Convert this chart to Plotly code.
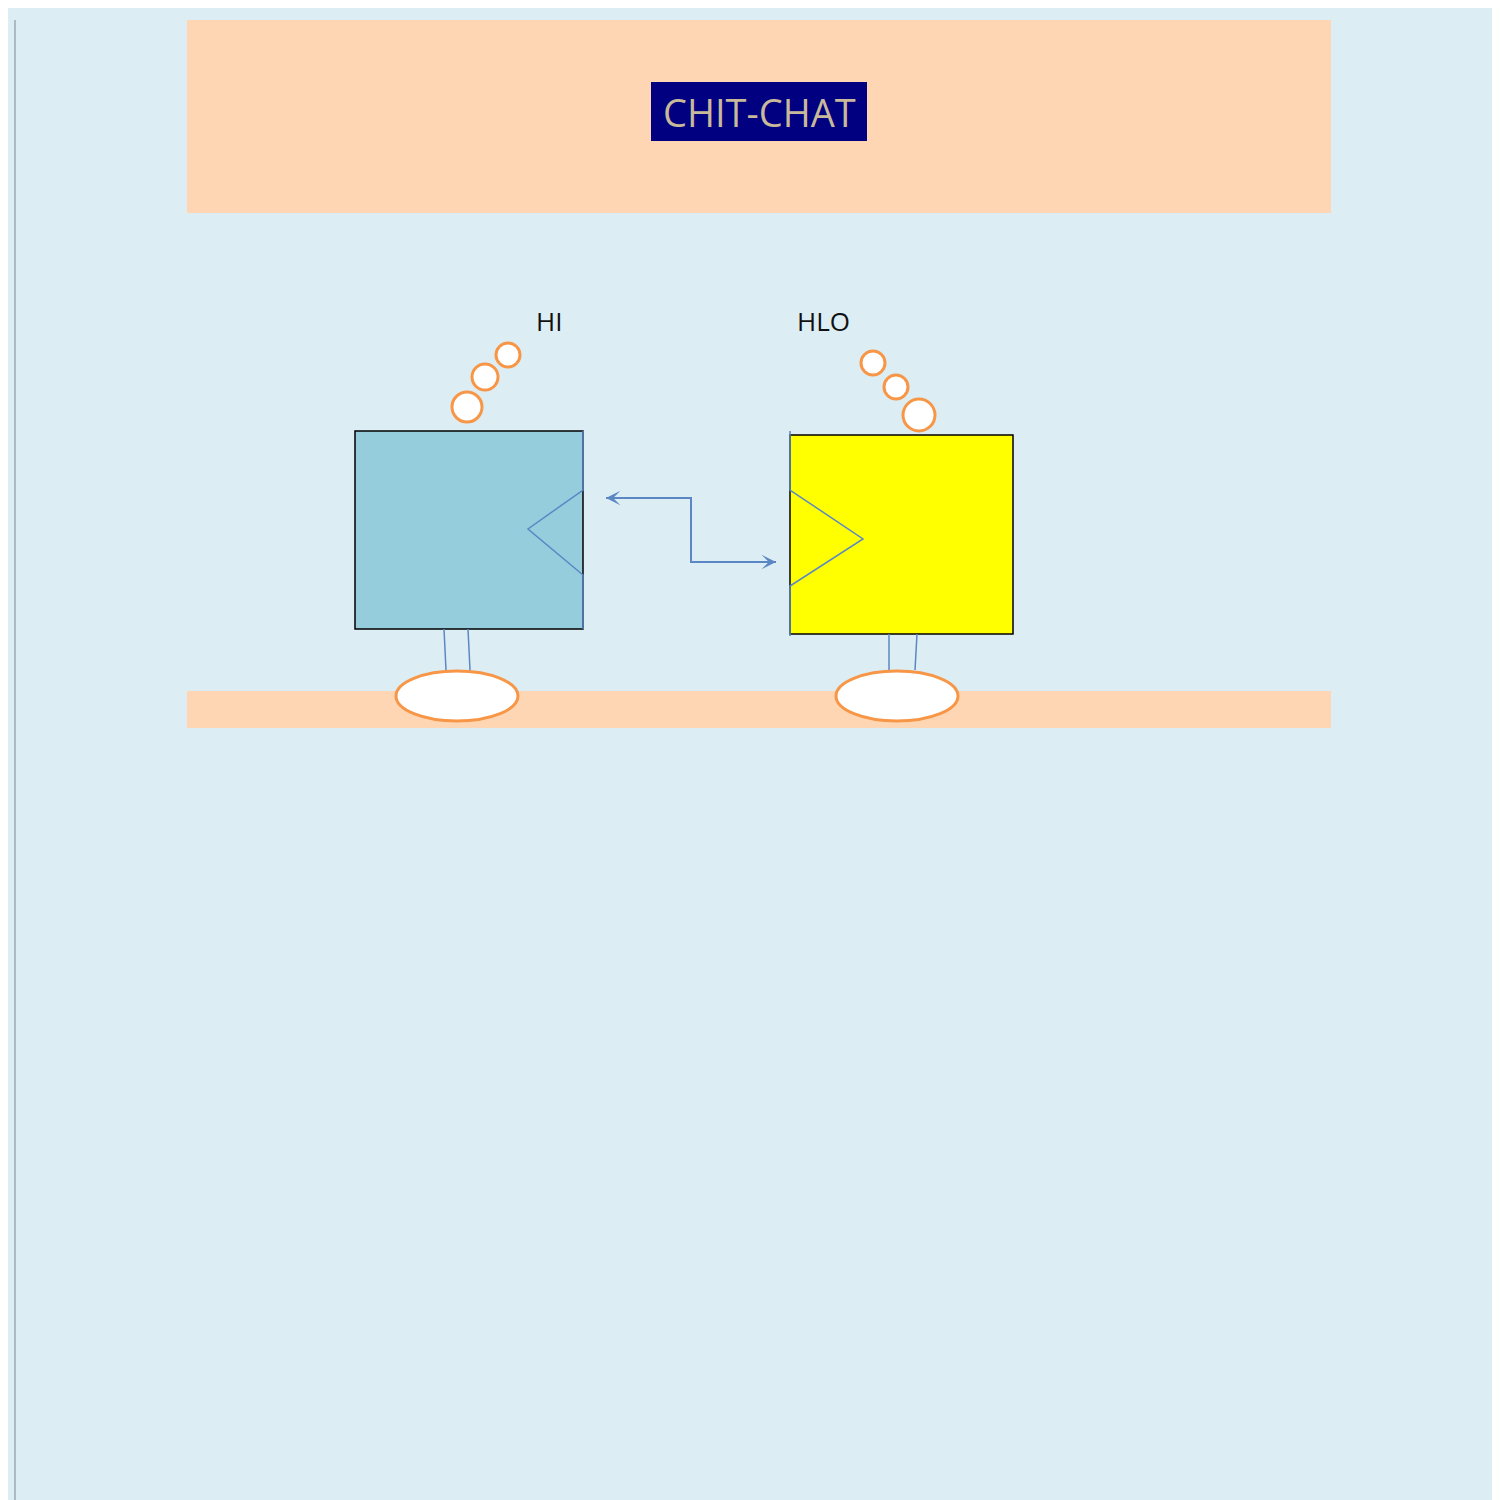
import plotly.graph_objects as go

# Diagram coordinates (pixel space, y downwards)
banner_top = [179, 12, 1323, 205]
banner_floor = [179, 683, 1323, 720]
title_box = [643, 74, 859, 133]

box_left = [347, 423, 575, 621]
box_right = [782, 427, 1005, 626]
notch_left_x = [575, 575, 520, 575, 575]
notch_left_y = [423, 482, 521, 567, 621]
notch_right_x = [782, 782, 855, 782, 782]
notch_right_y = [423, 482, 531, 578, 628]

arrow_x = [598, 683, 683, 768]
arrow_y = [490, 490, 554, 554]

bubble_x = [459, 477, 500, 865, 888, 911]
bubble_y = [399, 369, 347, 355, 379, 407]
bubble_r = [15, 13, 12, 12, 12, 16]

leg_x0 = [436, 460, 881, 909]
leg_x1 = [438, 462, 881, 907]
leg_y = [[621, 662], [621, 662], [626, 662], [626, 662]]

foot_x = [449, 889]
foot_y = [688, 688]
foot_rx = [61, 61]
foot_ry = [25, 25]

labels = ["HI", "HLO"]
label_x = [541, 815]
label_y = [313, 313]

ORANGE = "#F79646"
BLUE = "#5B87C5"
PEACH = "#FFD6B3"

fig = go.Figure()
shapes = []

def rect(b, fill, line=None, w=0):
    shapes.append(dict(type="rect", x0=b[0], y0=b[1], x1=b[2], y1=b[3],
                       fillcolor=fill, line=dict(color=line or fill, width=w), layer="below"))

rect(banner_top, PEACH)
rect(banner_floor, PEACH)
rect(title_box, "#000080")
rect(box_left, "#96CDDC", "black", 1.5)
rect(box_right, "#FFFF00", "black", 1.5)

for nx, ny in [(notch_left_x, notch_left_y), (notch_right_x, notch_right_y)]:
    fig.add_trace(go.Scatter(x=nx, y=ny, mode="lines", line=dict(color=BLUE, width=1.5),
                             hoverinfo="skip", showlegend=False))

fig.add_trace(go.Scatter(x=arrow_x, y=arrow_y, mode="lines", line=dict(color=BLUE, width=2),
                         hoverinfo="skip", showlegend=False))
fig.add_annotation(x=arrow_x[0], y=arrow_y[0], ax=arrow_x[0] + 20, ay=arrow_y[0],
                   xref="x", yref="y", axref="x", ayref="y", text="", showarrow=True,
                   arrowhead=3, arrowsize=1.2, arrowwidth=2, arrowcolor=BLUE)
fig.add_annotation(x=arrow_x[-1], y=arrow_y[-1], ax=arrow_x[-1] - 20, ay=arrow_y[-1],
                   xref="x", yref="y", axref="x", ayref="y", text="", showarrow=True,
                   arrowhead=3, arrowsize=1.2, arrowwidth=2, arrowcolor=BLUE)

for x0, x1, ys in zip(leg_x0, leg_x1, leg_y):
    fig.add_trace(go.Scatter(x=[x0, x1], y=ys, mode="lines", line=dict(color=BLUE, width=1.5),
                             hoverinfo="skip", showlegend=False))

for cx, cy, r in zip(bubble_x, bubble_y, bubble_r):
    shapes.append(dict(type="circle", x0=cx - r, y0=cy - r, x1=cx + r, y1=cy + r,
                       fillcolor="white", line=dict(color=ORANGE, width=3)))
for cx, cy, rx, ry in zip(foot_x, foot_y, foot_rx, foot_ry):
    shapes.append(dict(type="circle", x0=cx - rx, y0=cy - ry, x1=cx + rx, y1=cy + ry,
                       fillcolor="white", line=dict(color=ORANGE, width=3)))

shapes.append(dict(type="line", x0=7, y0=12, x1=7, y1=1500, line=dict(color="#9AAAB4", width=1.5)))
shapes.append(dict(type="line", x0=1493, y0=12, x1=1493, y1=1500, line=dict(color="#C8D8DE", width=1)))

fig.add_annotation(x=(title_box[0] + title_box[2]) / 2, y=(title_box[1] + title_box[3]) / 2,
                   text="CHIT-CHAT", showarrow=False,
                   font=dict(family="Open Sans", size=38, color="#C9B99B"))
for t, x, y in zip(labels, label_x, label_y):
    fig.add_annotation(x=x, y=y, text=t, showarrow=False,
                       font=dict(family="Open Sans", size=26, color="#111111"))

fig.update_layout(
    width=1500, height=1500, margin=dict(l=0, r=0, t=0, b=0),
    paper_bgcolor="#DCEEF4", plot_bgcolor="#DCEEF4", shapes=shapes,
    xaxis=dict(range=[0, 1500], visible=False, fixedrange=True),
    yaxis=dict(range=[1500, 0], visible=False, fixedrange=True),
)

fig.write_html("out.html")
